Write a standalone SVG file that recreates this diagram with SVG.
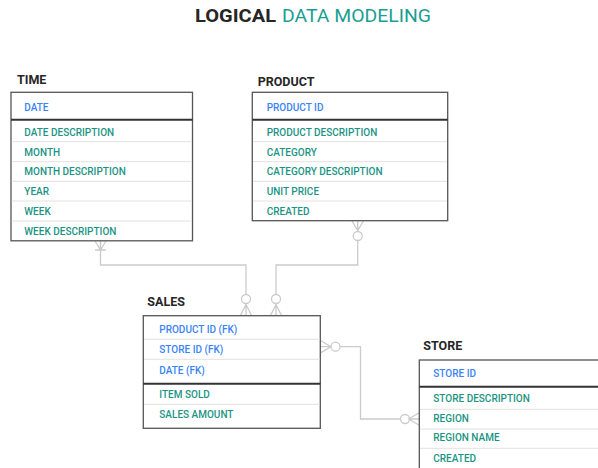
<svg xmlns="http://www.w3.org/2000/svg" width="598" height="468" viewBox="0 0 598 468">
  <style>
    .title-b { font-family: Roboto, "Liberation Sans", sans-serif; font-weight: 700; font-size: 18px; fill: #262626; }
    .title-r { font-family: Roboto, "Liberation Sans", sans-serif; font-weight: 400; font-size: 18.5px; fill: #1a9e92; }
    .label { font-family: Roboto, "Liberation Sans", sans-serif; font-weight: 700; font-size: 12.5px; fill: #262626; }
    .box { fill: #ffffff; stroke: #555555; stroke-width: 1.3; }
    .sep { stroke: #e2e2e2; stroke-width: 1; }
    .split { stroke: #333333; stroke-width: 2; }
    .key { font-family: Roboto, "Liberation Sans", sans-serif; font-weight: 500; font-size: 10px; fill: #3a84f4; }
    .attr { font-family: Roboto, "Liberation Sans", sans-serif; font-weight: 500; font-size: 10px; fill: #1c9484; }
    .conn { fill: none; stroke: #cbcbcb; stroke-width: 1.3; }
    .ring { fill: #ffffff; stroke: #cbcbcb; stroke-width: 1.3; }
  </style>

  <!-- heading -->
  <text class="title-b" x="195" y="22" textLength="81" lengthAdjust="spacingAndGlyphs">LOGICAL</text>
  <text class="title-r" x="282" y="22" textLength="149" lengthAdjust="spacingAndGlyphs">DATA MODELING</text>

  <!-- relationships -->
  <g id="connectors">
    <!-- TIME to SALES -->
    <g id="time-sales">
      <path class="conn" d="M100.5 241 V265 H246 V294.5"/>
      <path class="conn" d="M95 241 L100.5 250 L106 241 M100.5 241 V250 M95 250 H106"/>
      <circle class="ring" cx="246" cy="299" r="4.5"/>
      <path class="conn" d="M246 303.5 V315.5 M246 304.5 L240.5 315.5 M246 304.5 L251.5 315.5"/>
    </g>
    <!-- PRODUCT to SALES -->
    <g id="product-sales">
      <path class="conn" d="M357.7 240.5 V265 H276 V294.5"/>
      <path class="conn" d="M352 221 L357.7 230.5 L363.4 221 M357.7 221 V231.5"/>
      <circle class="ring" cx="357.7" cy="236" r="4.5"/>
      <circle class="ring" cx="276" cy="299" r="4.5"/>
      <path class="conn" d="M276 303.5 V315.5 M276 304.5 L270.5 315.5 M276 304.5 L281.5 315.5"/>
    </g>
    <!-- SALES to STORE -->
    <g id="sales-store">
      <path class="conn" d="M340 346.7 H360.5 V419 H400.5"/>
      <path class="conn" d="M320 340.3 L331 346.7 L320 353.1 M320 346.7 H331"/>
      <circle class="ring" cx="335.5" cy="346.7" r="4.5"/>
      <circle class="ring" cx="405" cy="419" r="4.5"/>
      <path class="conn" d="M409.5 419 H419.3 M408.5 419 L419.3 412.7 M408.5 419 L419.3 425.3"/>
    </g>
  </g>

  <!-- TIME -->
  <g id="time">
    <text class="label" x="17" y="84">TIME</text>
    <rect class="box" x="11" y="92.3" width="181.5" height="148.5"/>
    <line class="sep" x1="11.7" y1="141.7" x2="191.8" y2="141.7"/>
    <line class="sep" x1="11.7" y1="161.7" x2="191.8" y2="161.7"/>
    <line class="sep" x1="11.7" y1="181.3" x2="191.8" y2="181.3"/>
    <line class="sep" x1="11.7" y1="201" x2="191.8" y2="201"/>
    <line class="sep" x1="11.7" y1="221" x2="191.8" y2="221"/>
    <line class="split" x1="11" y1="119.7" x2="192.5" y2="119.7"/>
    <text class="key" x="24.3" y="111">DATE</text>
    <text class="attr" x="24.3" y="136">DATE DESCRIPTION</text>
    <text class="attr" x="24.3" y="155.7">MONTH</text>
    <text class="attr" x="24.3" y="175.4">MONTH DESCRIPTION</text>
    <text class="attr" x="24.3" y="195.1">YEAR</text>
    <text class="attr" x="24.3" y="214.8">WEEK</text>
    <text class="attr" x="24.3" y="234.5">WEEK DESCRIPTION</text>
  </g>

  <!-- PRODUCT -->
  <g id="product">
    <text class="label" x="257.7" y="86">PRODUCT</text>
    <rect class="box" x="252.3" y="92.3" width="195.4" height="128.4"/>
    <line class="sep" x1="253" y1="141.7" x2="447" y2="141.7"/>
    <line class="sep" x1="253" y1="161.7" x2="447" y2="161.7"/>
    <line class="sep" x1="253" y1="181.3" x2="447" y2="181.3"/>
    <line class="sep" x1="253" y1="201" x2="447" y2="201"/>
    <line class="split" x1="252.3" y1="119.7" x2="447.7" y2="119.7"/>
    <text class="key" x="266.7" y="111">PRODUCT ID</text>
    <text class="attr" x="266.7" y="136">PRODUCT DESCRIPTION</text>
    <text class="attr" x="266.7" y="155.7">CATEGORY</text>
    <text class="attr" x="266.7" y="175.4">CATEGORY DESCRIPTION</text>
    <text class="attr" x="266.7" y="195.1">UNIT PRICE</text>
    <text class="attr" x="266.7" y="214.8">CREATED</text>
  </g>

  <!-- SALES -->
  <g id="sales">
    <text class="label" x="147.3" y="306">SALES</text>
    <rect class="box" x="143.3" y="315.7" width="177" height="112.6"/>
    <line class="sep" x1="144" y1="339.3" x2="319.6" y2="339.3"/>
    <line class="sep" x1="144" y1="359.3" x2="319.6" y2="359.3"/>
    <line class="sep" x1="144" y1="404.3" x2="319.6" y2="404.3"/>
    <line class="split" x1="143.3" y1="383.7" x2="320.3" y2="383.7"/>
    <text class="key" x="159.3" y="333.3">PRODUCT ID (FK)</text>
    <text class="key" x="159.3" y="353.3">STORE ID (FK)</text>
    <text class="key" x="159.3" y="374">DATE (FK)</text>
    <text class="attr" x="159.3" y="398.3">ITEM SOLD</text>
    <text class="attr" x="159.3" y="418.3">SALES AMOUNT</text>
  </g>

  <!-- STORE -->
  <g id="store">
    <text class="label" x="423.3" y="350">STORE</text>
    <rect class="box" x="419.3" y="360" width="190" height="120"/>
    <line class="sep" x1="420" y1="409.3" x2="598" y2="409.3"/>
    <line class="sep" x1="420" y1="429" x2="598" y2="429"/>
    <line class="sep" x1="420" y1="448.3" x2="598" y2="448.3"/>
    <line class="split" x1="419.3" y1="386.7" x2="598" y2="386.7"/>
    <text class="key" x="433.3" y="377.3">STORE ID</text>
    <text class="attr" x="433.3" y="401.7">STORE DESCRIPTION</text>
    <text class="attr" x="433.3" y="421.7">REGION</text>
    <text class="attr" x="433.3" y="441.4">REGION NAME</text>
    <text class="attr" x="433.3" y="461.7">CREATED</text>
  </g>
</svg>
